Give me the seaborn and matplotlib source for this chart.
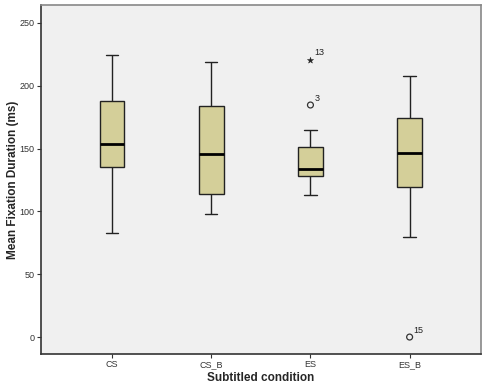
"""
Mean fixation duration per subtitled condition (SPSS-style box plot).
"""

import numpy as np
import pandas as pd
import matplotlib
matplotlib.use("Agg")
import matplotlib.pyplot as plt
import seaborn as sns

# ── DATA ─────────────────────────────────────
conditions = ["CS", "CS_B", "ES", "ES_B"]

cs_vals = [82.6, 100, 120, 135.4, 140, 148, 153.9, 165, 178, 188.1, 200, 212, 224.8]
cs_b_vals = [97.9, 104, 110, 113.6, 125, 136, 145.7, 160, 172, 183.7, 195, 208, 218.7]
es_vals = [113.1, 118, 124, 128.4, 130, 132, 133.8, 138, 145, 151.0, 164.8, 184.7, 220.8]
es_b_vals = [0, 79.9, 105, 119.2, 128, 138, 146.5, 155, 165, 174.4, 188, 198, 207.8]

# outliers flagged in the original output (case number, marker type)
outlier_cond = ["ES", "ES", "ES_B"]
outlier_vals = [220.8, 184.7, 0]
outlier_case = ["13", "3", "15"]
outlier_kind = ["extreme", "outlier", "outlier"]

BOX_COLOR = "#D4CF99"
BG_COLOR = "#F0F0F0"


def main():
    df = pd.DataFrame({
        "condition": np.repeat(conditions, [len(cs_vals), len(cs_b_vals),
                                            len(es_vals), len(es_b_vals)]),
        "value": cs_vals + cs_b_vals + es_vals + es_b_vals,
    })

    sns.set_theme(style="white")
    plt.rcParams["font.family"] = ["Liberation Sans", "DejaVu Sans"]

    fig = plt.figure(figsize=(4.88, 3.91), dpi=100, facecolor="white")
    ax = fig.add_axes([0.0834, 0.0946, 0.9023, 0.8926])
    ax.set_facecolor(BG_COLOR)

    sns.boxplot(data=df, x="condition", y="value", order=conditions,
                color=BOX_COLOR, width=0.25, whis=1.2, showfliers=False,
                linecolor="#222222", linewidth=1.0, saturation=1,
                medianprops={"color": "black", "linewidth": 2},
                ax=ax)

    # outliers drawn separately: circles for outliers, filled star for extremes
    out = pd.DataFrame({"condition": outlier_cond, "value": outlier_vals,
                        "kind": outlier_kind})
    circ = out[out["kind"] == "outlier"]
    star = out[out["kind"] == "extreme"]
    sns.scatterplot(data=circ, x="condition", y="value", marker="o",
                    s=18, facecolor="none", edgecolor="#333333",
                    linewidth=0.9, legend=False, ax=ax)
    sns.scatterplot(data=star, x="condition", y="value", marker="*",
                    s=22, color="#222222", edgecolor="#222222",
                    linewidth=0.3, legend=False, ax=ax)

    xpos = {c: i for i, c in enumerate(conditions)}
    for c, v, lab in zip(outlier_cond, outlier_vals, outlier_case):
        ax.annotate(lab, (xpos[c], v), xytext=(3, 3),
                    textcoords="offset points", fontsize=6.5,
                    color="#222222")

    ax.set_xlim(-0.72, 3.72)
    ax.set_ylim(-13.5, 264.3)
    ax.set_yticks([0, 50, 100, 150, 200, 250])

    ax.set_xlabel("Subtitled condition", fontsize=8.5, fontweight="bold",
                  labelpad=2)
    ax.set_ylabel("Mean Fixation Duration (ms)", fontsize=8.5,
                  fontweight="bold", labelpad=0)
    ax.tick_params(axis="both", labelsize=6.5, colors="#333333",
                   length=3, width=0.8, direction="out", pad=1.5,
                   bottom=True, left=True)

    for side in ["left", "bottom"]:
        ax.spines[side].set_color("#333333")
        ax.spines[side].set_linewidth(1.2)
    for side in ["top", "right"]:
        ax.spines[side].set_color("#888888")
        ax.spines[side].set_linewidth(1.2)

    plt.savefig("out.png", dpi=100, facecolor="white")
    plt.close()


if __name__ == "__main__":
    main()
